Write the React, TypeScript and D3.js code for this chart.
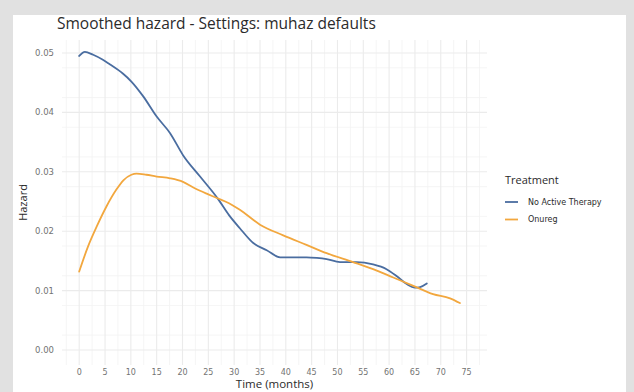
import React from "react";
import * as d3 from "d3";

// Smoothed hazard estimates (muhaz defaults), time in months
const noActiveTime = [0, 1.1, 2.7, 4.5, 5.9, 8.5, 10.1, 12.4, 15, 17.6, 20.1, 23.4, 26.9, 29, 31.1, 33.7, 36.3, 38.9, 39.8, 42, 44, 46, 47.9, 50.5, 53.7, 56.9, 59.5, 61.5, 63.4, 65, 66, 67.3];
const noActiveHazard = [0.0495, 0.0502, 0.0497, 0.0489, 0.0481, 0.0465, 0.0452, 0.0427, 0.0393, 0.0365, 0.0328, 0.0292, 0.0254, 0.0227, 0.0205, 0.0180, 0.0168, 0.0156, 0.0156, 0.0156, 0.0156, 0.0155, 0.0153, 0.0148, 0.0148, 0.0144, 0.0136, 0.0124, 0.0111, 0.0105, 0.0106, 0.0112];

const onuregTime = [0, 1.7, 3.4, 5.3, 7.2, 8.6, 10.1, 11.1, 13, 15, 17.6, 20.1, 22, 23.4, 25, 26.9, 29, 31.1, 35, 39.5, 44, 47.9, 53, 56.9, 60.8, 64.7, 68.5, 71.8, 73.7];
const onuregHazard = [0.0132, 0.0174, 0.0208, 0.0242, 0.0270, 0.0286, 0.0295, 0.0297, 0.0295, 0.0292, 0.0289, 0.0283, 0.0274, 0.0268, 0.0262, 0.0255, 0.0247, 0.0236, 0.0211, 0.0193, 0.0177, 0.0163, 0.0148, 0.0136, 0.0122, 0.0108, 0.0094, 0.0087, 0.0079];

const seriesNames = ["No Active Therapy", "Onureg"];
const seriesColors = ["#4a6da0", "#f2a73e"];

const xTicks = d3.range(0, 76, 5);
const yTicks = [0, 0.01, 0.02, 0.03, 0.04, 0.05];

const W = 634;
const H = 392;
const panel = { left: 62, right: 487, top: 40, bottom: 365 };

export default function App() {
  const x = d3.scaleLinear().domain([-3.33, 78.95]).range([panel.left, panel.right]);
  const y = d3.scaleLinear().domain([-0.00253, 0.05219]).range([panel.bottom, panel.top]);

  const line = d3
    .line<[number, number]>()
    .x((d) => x(d[0]))
    .y((d) => y(d[1]))
    .curve(d3.curveMonotoneX);

  const series = [
    noActiveTime.map((t, i) => [t, noActiveHazard[i]] as [number, number]),
    onuregTime.map((t, i) => [t, onuregHazard[i]] as [number, number]),
  ];

  const xMinor = d3.range(-2.5, 79, 2.5).filter((v) => v % 5 !== 0);
  const yMinor = d3.range(0.0025, 0.052, 0.005);

  const font = "'DejaVu Sans', sans-serif";

  return (
    <svg
      width={W}
      height={H}
      style={{ position: "absolute", left: 0, top: 0, display: "block" }}
    >
      <rect x={0} y={0} width={W} height={H} fill="#e1e1e1" />
      <rect x={13} y={15} width={613} height={H - 15} fill="#ffffff" />

      {/* minor grid */}
      {xMinor.map((v) => (
        <line key={"xm" + v} x1={x(v)} x2={x(v)} y1={panel.top} y2={panel.bottom} stroke="#f3f3f3" strokeWidth={0.8} />
      ))}
      {yMinor.map((v) => (
        <line key={"ym" + v} x1={panel.left} x2={panel.right} y1={y(v)} y2={y(v)} stroke="#f3f3f3" strokeWidth={0.8} />
      ))}
      {/* major grid */}
      {xTicks.map((v) => (
        <line key={"xM" + v} x1={x(v)} x2={x(v)} y1={panel.top} y2={panel.bottom} stroke="#ebebeb" strokeWidth={1.1} />
      ))}
      {yTicks.map((v) => (
        <line key={"yM" + v} x1={panel.left} x2={panel.right} y1={y(v)} y2={y(v)} stroke="#ebebeb" strokeWidth={1.1} />
      ))}

      {/* curves */}
      {series.map((s, i) => (
        <path key={seriesNames[i]} d={line(s) ?? ""} fill="none" stroke={seriesColors[i]} strokeWidth={1.8} strokeLinejoin="round" strokeLinecap="round" />
      ))}

      {/* tick labels */}
      {yTicks.map((v) => (
        <text key={"yl" + v} x={54} y={y(v)} dy="0.35em" textAnchor="end" fontFamily={font} fontSize={8.5} fill="#737373">
          {d3.format(".2f")(v)}
        </text>
      ))}
      {xTicks.map((v) => (
        <text key={"xl" + v} x={x(v)} y={372} dy="0.35em" textAnchor="middle" fontFamily={font} fontSize={8} fill="#737373">
          {v}
        </text>
      ))}

      {/* axis titles */}
      <text x={(panel.left + panel.right) / 2} y={388} textAnchor="middle" fontFamily="'Open Sans', sans-serif" fontSize={11.5} fill="#2b2b2b">
        Time (months)
      </text>
      <text
        transform={`translate(27, ${(panel.top + panel.bottom) / 2}) rotate(-90)`}
        textAnchor="middle"
        fontFamily="'Open Sans', sans-serif"
        fontSize={11}
        fill="#2b2b2b"
      >
        Hazard
      </text>

      {/* title */}
      <text x={57} y={29} fontFamily="'Open Sans', sans-serif" fontSize={15.5} fill="#2b2b2b">
        Smoothed hazard - Settings: muhaz defaults
      </text>

      {/* legend */}
      <text x={505} y={184} fontFamily="'Open Sans', sans-serif" fontSize={11} fill="#2b2b2b">
        Treatment
      </text>
      {seriesNames.map((n, i) => (
        <g key={"lg" + n} transform={`translate(0, ${202 + i * 17.5})`}>
          <line x1={505} x2={518} y1={0} y2={0} stroke={seriesColors[i]} strokeWidth={1.8} />
          <text x={528} y={0} dy="0.35em" fontFamily={font} fontSize={8} fill="#2b2b2b">
            {n}
          </text>
        </g>
      ))}
    </svg>
  );
}
